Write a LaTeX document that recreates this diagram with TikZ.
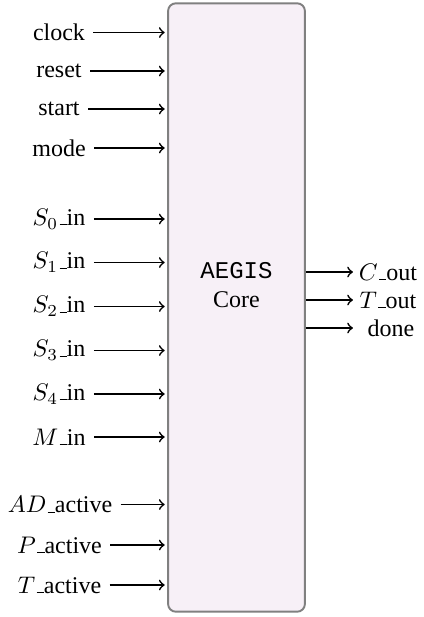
\documentclass[tikz,border=0pt]{standalone}
\usepackage{fontspec}
\setmainfont{Liberation Serif}
\setmonofont{Liberation Mono}
\definecolor{corefill}{HTML}{F7F0F7}
\definecolor{coredraw}{HTML}{808080}
\newcommand\usc{\leavevmode\kern.06em\vbox{\hrule width.3em}}
\begin{document}
\begin{tikzpicture}[x=0.41667pt,y=-0.41667pt,
  lbl/.style={font=\fontsize{10}{12}\selectfont},
  sig/.style={->, line width=0.7pt, shorten >=1pt},
  corebox/.style={draw=coredraw, fill=corefill, line width=0.8pt, rounded corners=3.2pt,
    minimum width=57pt, minimum height=253.5pt, inner sep=0pt}]
\useasboundingbox (0,0) rectangle (424,617);
\node[corebox] (core) at (236.5,307.5) {};
\node[lbl, align=center] (title) at (236.5,285) {\texttt{AEGIS}\\Core};
% inputs
\node[lbl] (clock) at (59,32.5) {clock};
\node[lbl] (reset) at (59,71) {reset};
\node[lbl] (start) at (59,109) {start};
\node[lbl] (mode) at (59,148) {mode};
\node[lbl] (s0) at (59,219) {$S_0$\usc in};
\node[lbl] (s1) at (59,262.5) {$S_1$\usc in};
\node[lbl] (s2) at (59,306.5) {$S_2$\usc in};
\node[lbl] (s3) at (59,350.5) {$S_3$\usc in};
\node[lbl] (s4) at (59,394) {$S_4$\usc in};
\node[lbl] (m) at (59,437) {$M$\usc in};
\node[lbl] (ad) at (60,504.5) {$AD$\usc active};
\node[lbl] (p) at (59.5,545) {$P$\usc active};
\node[lbl] (t) at (59.5,585) {$T$\usc active};
\foreach \n in {clock,reset,start,mode,s0,s1,s2,s3,s4,m,ad,p,t}
  \draw[sig] (\n.east) -- (\n.east -| core.west);
% outputs
\coordinate (c0) at (353,272);
\coordinate (c1) at (353,300);
\coordinate (c2) at (353,328);
\node[lbl] (cout) at (388,272) {$C$\usc out};
\node[lbl] (tout) at (388,300) {$T$\usc out};
\node[lbl] (done) at (391,328) {done};
\draw[sig, shorten >=0pt] (c0 -| core.east) -- (c0);
\draw[sig, shorten >=0pt] (c1 -| core.east) -- (c1);
\draw[sig, shorten >=0pt] (c2 -| core.east) -- (c2);
\end{tikzpicture}
\end{document}
